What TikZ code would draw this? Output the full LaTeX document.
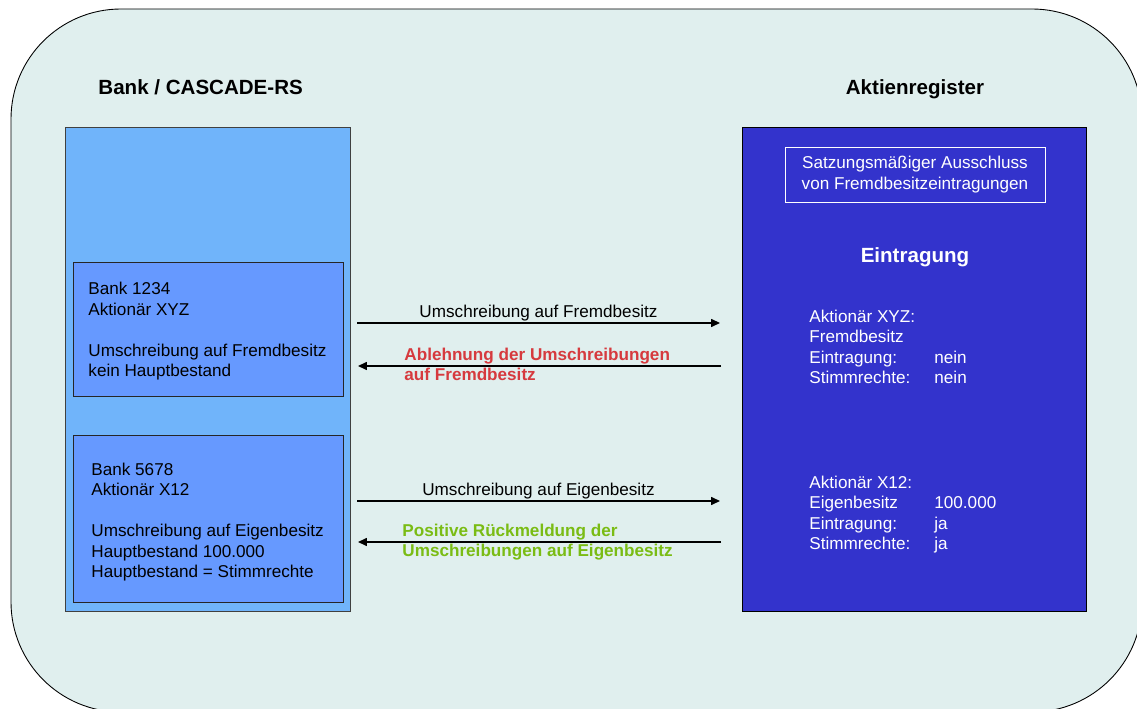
\documentclass[tikz,border=0pt]{standalone}
\usepackage{fontspec}
\setmainfont{Liberation Sans}
\usetikzlibrary{arrows.meta}
\definecolor{panelbg}{RGB}{224,239,238}
\definecolor{bankblue}{RGB}{112,180,250}
\definecolor{accountblue}{RGB}{102,153,255}
\definecolor{registerblue}{RGB}{51,51,204}
\definecolor{rejectred}{RGB}{214,58,62}
\definecolor{acceptgreen}{RGB}{122,188,20}
\tikzset{
  box/.style = {draw, anchor=north west, inner sep=0pt, outer sep=0pt},
  msg/.style = {-{Triangle[length=5pt,width=4.5pt]}, line width=0.7pt},
  txt/.style = {anchor=base west, align=left, inner sep=0pt},
  head/.style = {font=\fontsize{11.7}{14}\selectfont\bfseries, inner sep=0pt},
}
\newcommand{\regline}[2]{\makebox[2.5cm][l]{#1}#2}

\begin{document}
\begin{tikzpicture}[x=0.02cm, y=-0.02cm, font=\fontsize{9.75}{11.7}\selectfont, line width=0.5pt]
		\path[use as bounding box] (0,0) rectangle (1137,709);
		\clip (0,0) rectangle (1137,709);

		% Background
		\draw[fill=panelbg, rounded corners=2.2cm] (11,9) rectangle (1142,712);

		% Headings
		\node[head, anchor=base west] (bankhead) at (98,95) {Bank / CASCADE-RS};
		\node[head, anchor=base] (reghead) at (915,95) {Aktienregister};

		% Bank side (text nodes sit on the baseline of their last line)
		\node[box, fill=bankblue, draw=black!75, minimum width=5.7cm, minimum height=9.7cm] (bank) at (65,127) {};
		\node[box, fill=accountblue, draw=black!85, minimum width=5.4cm, minimum height=2.68cm] (bankA) at (73,262) {};
		\node[box, fill=accountblue, draw=black!85, minimum width=5.4cm, minimum height=3.34cm] (bankB) at (73,435) {};
		\node[txt] (bankAtext) at (88,377) {Bank 1234\\Aktionär XYZ\\[11.7pt]Umschreibung auf Fremdbesitz\\kein Hauptbestand};
		\node[txt] (bankBtext) at (91,578) {Bank 5678\\Aktionär X12\\[11.7pt]Umschreibung auf Eigenbesitz\\Hauptbestand 100.000\\Hauptbestand = Stimmrechte};

		% Register side
		\node[box, fill=registerblue, draw=black, minimum width=6.9cm, minimum height=9.7cm] (register) at (742,127) {};
		\node[draw=white, text=white, align=center, inner sep=0pt, minimum width=5.2cm, minimum height=1.1cm] (satzung) at (915,174.5) {Satzungsmäßiger Ausschluss\\von Fremdbesitzeintragungen};
		\node[head, anchor=base, text=white] (eintragung) at (915,263) {Eintragung};
		\node[txt, text=white] (regA) at (809,384) {Aktionär XYZ:\\Fremdbesitz\\\regline{Eintragung:}{nein}\\\regline{Stimmrechte:}{nein}};
		\node[txt, text=white] (regB) at (809,550) {Aktionär X12:\\\regline{Eigenbesitz}{100.000}\\\regline{Eintragung:}{ja}\\\regline{Stimmrechte:}{ja}};

		% Messages
		\coordinate (fbOut) at (357,323);
		\coordinate (fbIn) at (720,323);
		\coordinate (fbBack) at (721,366);
		\coordinate (fbEnd) at (358,366);
		\coordinate (ebOut) at (357,501);
		\coordinate (ebIn) at (720,501);
		\coordinate (ebBack) at (721,542);
		\coordinate (ebEnd) at (358,542);
		\draw[msg] (fbOut) -- node[above, inner sep=1pt] (fbLabel) {Umschreibung auf Fremdbesitz} (fbIn);
		\draw[msg] (fbBack) -- (fbEnd);
		\node[txt, font=\fontsize{9.75}{11.7}\selectfont\bfseries, text=rejectred] (reject) at (404,381) {Ablehnung der Umschreibungen\\auf Fremdbesitz};
		\draw[msg] (ebOut) -- node[above, inner sep=1pt] (ebLabel) {Umschreibung auf Eigenbesitz} (ebIn);
		\draw[msg] (ebBack) -- (ebEnd);
		\node[txt, font=\fontsize{9.75}{11.7}\selectfont\bfseries, text=acceptgreen] (accept) at (402,557) {Positive Rückmeldung der\\Umschreibungen auf Eigenbesitz};
	\end{tikzpicture}
\end{document}
